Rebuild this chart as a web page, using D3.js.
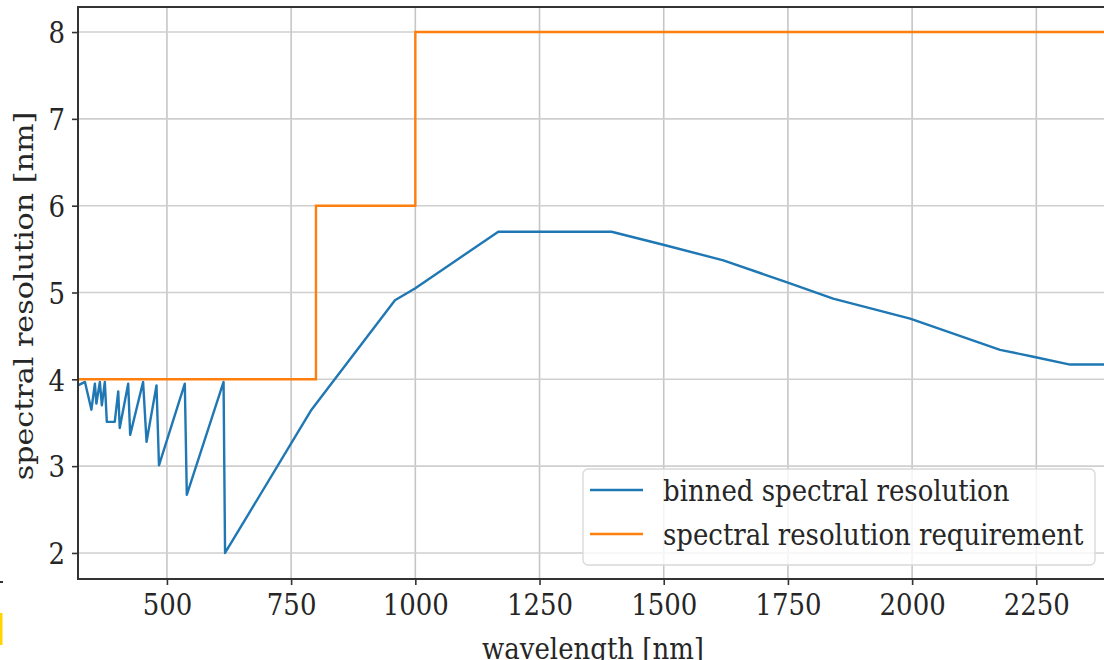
<!DOCTYPE html>
<html lang="en">
<meta charset="utf-8">
<head>
<script src="https://d3js.org/d3.v7.min.js"></script>
<style>
  body { margin: 0; background: #fff; }
  text { font-family: "DejaVu Serif", serif; fill: #262626; }
</style>
</head>
<body>
<div id="chart"></div>
<script>

// binned spectral resolution (wavelength nm, resolution nm)
var binnedWl  = [321, 335, 348, 355, 358, 365, 369, 375, 379, 395, 402, 405, 422, 426, 452, 459,
                 479, 484, 536, 540, 614, 617, 791, 959, 1000, 1167, 1395, 1499, 1620, 1747, 1841,
                 1996, 2177, 2244, 2318, 2500];
var binnedRes = [3.93, 3.97, 3.65, 3.95, 3.72, 3.97, 3.70, 3.97, 3.51, 3.51, 3.86, 3.44, 3.95, 3.36, 3.97, 3.28,
                 3.93, 3.01, 3.95, 2.67, 3.97, 2.0, 3.65, 4.91, 5.05, 5.70, 5.70, 5.55, 5.37, 5.12, 4.93,
                 4.70, 4.34, 4.26, 4.17, 4.17];

// requirement step function
var reqWl  = [321, 800, 800, 1000, 1000, 2500];
var reqRes = [4, 4, 6, 6, 8, 8];

var xTicks = [500, 750, 1000, 1250, 1500, 1750, 2000, 2250];
var yTicks = [2, 3, 4, 5, 6, 7, 8];
var seriesNames = ["binned spectral resolution", "spectral resolution requirement"];
var seriesColors = ["#1f77b4", "#ff7f0e"];

var W = 1104, H = 660;
var mLeft = 78, mTop = 6, mBottom = 579;
var fs = 26, stretch = 1.15;   // picture is a bit taller than wide

var svg = d3.select("#chart").append("svg")
  .attr("width", W).attr("height", H);

var x = d3.scaleLinear().domain([321, 2500]).range([mLeft, mLeft + 2179 * 0.4968]);
var y = d3.scaleLinear().domain([1.7, 8.3]).range([mBottom, mTop]);

// grid
svg.append("g").selectAll("line").data(xTicks).join("line")
  .attr("x1", d => x(d)).attr("x2", d => x(d))
  .attr("y1", mTop).attr("y2", mBottom)
  .attr("stroke", "#c6c6c6").attr("stroke-width", 1.6);
svg.append("g").selectAll("line").data(yTicks).join("line")
  .attr("x1", mLeft).attr("x2", W)
  .attr("y1", d => y(d)).attr("y2", d => y(d))
  .attr("stroke", "#cfcfcf").attr("stroke-width", 1.6);

// lines
var line = d3.line().x(d => x(d[0])).y(d => y(d[1]));
var binned = binnedWl.map((w, i) => [w, binnedRes[i]]);
var req = reqWl.map((w, i) => [w, reqRes[i]]);

svg.append("path").datum(binned)
  .attr("d", line).attr("fill", "none")
  .attr("stroke", seriesColors[0]).attr("stroke-width", 2.4)
  .attr("stroke-linejoin", "round");
svg.append("path").datum(req)
  .attr("d", line).attr("fill", "none")
  .attr("stroke", seriesColors[1]).attr("stroke-width", 2.4);

// frame (left, top, bottom -- right side is cut off)
svg.append("path")
  .attr("d", "M" + W + "," + (mTop + 1) + "H" + mLeft + "V" + mBottom + "H" + W)
  .attr("fill", "none").attr("stroke", "#333").attr("stroke-width", 2);

// axes
var xAxis = svg.append("g")
  .attr("transform", "translate(0," + mBottom + ")")
  .call(d3.axisBottom(x).tickValues(xTicks).tickSize(6).tickPadding(7).tickFormat(d3.format("d")));
var yAxis = svg.append("g")
  .attr("transform", "translate(" + mLeft + ",0)")
  .call(d3.axisLeft(y).tickValues(yTicks).tickSize(6).tickPadding(7).tickFormat(d3.format("d")));
[xAxis, yAxis].forEach(function(a) {
  a.select(".domain").remove();
  a.selectAll(".tick line").attr("stroke", "#333").attr("stroke-width", 1.6);
  a.selectAll("text")
    .style("font-size", fs + "px").style("font-family", "DejaVu Serif")
    .attr("fill", "#262626")
    .attr("transform", "scale(1," + stretch + ")");
});
yAxis.selectAll("text").attr("dy", "0.36em");

// axis labels
svg.append("text")
  .attr("transform", "translate(593,659) scale(1," + stretch + ")")
  .attr("text-anchor", "middle")
  .style("font-size", fs + "px")
  .text("wavelength [nm]");
svg.append("text")
  .attr("transform", "translate(33,296) scale(1," + (stretch + 0.01) + ") rotate(-90)")
  .attr("text-anchor", "middle")
  .style("font-size", fs + "px")
  .text("spectral resolution [nm]");

// legend
var lg = svg.append("g");
lg.append("rect")
  .attr("x", 583).attr("y", 469).attr("width", 512).attr("height", 96)
  .attr("rx", 5).attr("fill", "#fff").attr("fill-opacity", 0.8)
  .attr("stroke", "#d8d8d8").attr("stroke-width", 1.3);
seriesNames.forEach(function(name, i) {
  var ly = 490 + i * 44;
  lg.append("line")
    .attr("x1", 590).attr("x2", 643).attr("y1", ly).attr("y2", ly)
    .attr("stroke", seriesColors[i]).attr("stroke-width", 2.4);
  lg.append("text")
    .attr("transform", "translate(663," + (ly + 11) + ") scale(1," + stretch + ")")
    .style("font-size", fs + "px")
    .text(name);
});

// crop artefacts at the lower left edge of the picture
svg.append("rect").attr("x", 0).attr("y", 581).attr("width", 3).attr("height", 2).attr("fill", "#333");
svg.append("rect").attr("x", 0).attr("y", 613).attr("width", 2.5).attr("height", 32).attr("fill", "#ffd500");

</script>
</body>
</html>
